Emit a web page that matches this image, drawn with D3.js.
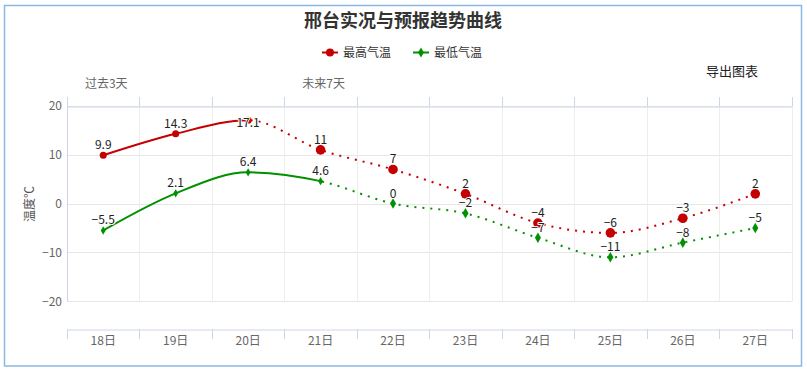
<!DOCTYPE html>
<html><head><meta charset="utf-8">
<script src="https://cdn.jsdelivr.net/npm/d3@7/dist/d3.min.js"></script>
<style>
html,body{margin:0;padding:0;background:#fff;}
svg text{font-family:"Noto Sans CJK SC","Noto Sans",sans-serif;}
</style></head>
<body><svg id="c" width="807" height="369"></svg>
<script>
const categories = ["18日","19日","20日","21日","22日","23日","24日","25日","26日","27日"];
const topLabels = ["过去3天","","","未来7天","","","","","",""];
const maxTemp = [9.9, 14.3, 17.1, 11, 7, 2, -4, -6, -3, 2];
const minTemp = [-5.5, 2.1, 6.4, 4.6, 0, -2, -7, -11, -8, -5];
const maxSolidUntil = 2;   // index where observed (solid) segment ends
const minSolidUntil = 3;
const yTicks = [-20, -10, 0, 10, 20];
const yDomain = [-25.7, 20];

const svg = d3.select("#c");
const L = 67, R = 791.5, T = 106, B = 329, gridBottom = 301;
const red = "#c40000", green = "#009000";
const fmt = v => (v < 0 ? "\u2212" + Math.abs(v) : String(v));

// border
svg.append("rect").attr("x",4.5).attr("y",5.5).attr("width",797).attr("height",360.5)
  .attr("fill","none").attr("stroke","#8ab8e6").attr("stroke-width",1.5);

const x = d3.scaleBand().domain(categories).range([L, R]).padding(0);
const cx = c => x(c) + x.bandwidth()/2;
const y = d3.scaleLinear().domain(yDomain).range([B, T]);

// title
svg.append("text").attr("x",403).attr("y",26.5).attr("text-anchor","middle")
  .attr("font-size",18).attr("font-weight","bold").attr("fill","#333").text("邢台实况与预报趋势曲线");

// legend
const legend = [{name:"最高气温",color:red,sym:d3.symbolCircle,lx:322},{name:"最低气温",color:green,sym:d3.symbolDiamond,lx:413}];
legend.forEach(l=>{
  const g = svg.append("g");
  g.append("line").attr("x1",l.lx).attr("x2",l.lx+16).attr("y1",52.5).attr("y2",52.5).attr("stroke",l.color).attr("stroke-width",2);
  g.append("path").attr("d",d3.symbol(l.sym, l.sym===d3.symbolCircle?50:30)()).attr("transform",`translate(${l.lx+8},52.5)`).attr("fill",l.color);
  g.append("text").attr("x",l.lx+21).attr("y",57).attr("font-size",12).attr("fill","#333").text(l.name);
});

// export text
svg.append("text").attr("x",706).attr("y",75.5).attr("font-size",13).attr("fill","#222").text("导出图表");

// horizontal gridlines
svg.append("g").selectAll("line").data(yTicks).join("line")
  .attr("x1",L).attr("x2",R).attr("y1",d=>Math.round(y(d))+0.5).attr("y2",d=>Math.round(y(d))+0.5)
  .attr("stroke","#e6e6e6");
// vertical gridlines at category boundaries
const bounds = categories.map(c=>x(c)).concat([R]);
svg.append("g").selectAll("line").data(bounds.slice(1)).join("line")
  .attr("x1",d=>Math.round(d)+0.5).attr("x2",d=>Math.round(d)+0.5).attr("y1",T).attr("y2",gridBottom+0.5)
  .attr("stroke","#eeeeee");

// y axis line
svg.append("line").attr("x1",L+0.5).attr("x2",L+0.5).attr("y1",T).attr("y2",gridBottom+0.5).attr("stroke","#ccd6eb");

// top axis
const topAxis = d3.axisTop(x).tickSize(0).tickFormat((d,i)=>topLabels[i]);
const ta = svg.append("g").attr("transform",`translate(0,${T+0.5})`).call(topAxis);
ta.select(".domain").attr("stroke","#ccd6eb");
ta.selectAll("text").attr("font-size",12).attr("fill","#666").attr("dx",3).attr("y",-18.5);
svg.append("g").selectAll("line").data(bounds).join("line")
  .attr("x1",d=>Math.round(d)+0.5).attr("x2",d=>Math.round(d)+0.5).attr("y1",T-9).attr("y2",T+0.5).attr("stroke","#ccd6eb");

// bottom axis
const botAxis = d3.axisBottom(x).tickSize(0);
const ba = svg.append("g").attr("transform",`translate(0,${B+0.5})`).call(botAxis);
ba.select(".domain").attr("stroke","#ccd6eb");
ba.selectAll("text").attr("font-size",12).attr("fill","#666").attr("y",12).attr("dy","0.3em");
svg.append("g").selectAll("line").data(bounds).join("line")
  .attr("x1",d=>Math.round(d)+0.5).attr("x2",d=>Math.round(d)+0.5).attr("y1",B).attr("y2",B+10).attr("stroke","#ccd6eb");

// y labels
const ya = svg.append("g").attr("transform",`translate(${L},0)`)
  .call(d3.axisLeft(y).tickValues(yTicks).tickSize(0).tickPadding(5).tickFormat(fmt));
ya.select(".domain").remove();
ya.selectAll("text").attr("font-size",12).attr("fill","#666");

// y title
svg.append("text").attr("transform","translate(34,204) rotate(-90)").attr("text-anchor","middle")
  .attr("font-size",12).attr("fill","#555").text("温度℃");

// series
const defs = svg.append("defs");
function series(vals, color, splitIdx, sym, rPast, rFut, id){
  const pts = vals.map((v,i)=>[cx(categories[i]), y(v)]);
  const splitX = pts[splitIdx][0];
  defs.append("clipPath").attr("id",id+"a").append("rect").attr("x",0).attr("y",0).attr("width",splitX).attr("height",369);
  defs.append("clipPath").attr("id",id+"b").append("rect").attr("x",splitX).attr("y",0).attr("width",807-splitX).attr("height",369);
  const line = d3.line().curve(d3.curveMonotoneX);
  const d = line(pts);
  svg.append("path").attr("d",d).attr("fill","none").attr("stroke",color).attr("stroke-width",2).attr("clip-path",`url(#${id}a)`);
  svg.append("path").attr("d",d).attr("fill","none").attr("stroke",color).attr("stroke-width",2)
    .attr("stroke-dasharray","2,6").attr("clip-path",`url(#${id}b)`);
  pts.forEach((p,i)=>{
    const r = i < splitIdx ? rPast : (i===splitIdx ? rPast : rFut);
    const size = sym===d3.symbolCircle ? Math.PI*r*r : 2*r*r;
    svg.append("path").attr("d",d3.symbol(sym,size)()).attr("transform",`translate(${p[0]},${p[1]})`).attr("fill",color);
  });
  return pts;
}
const rp = series(maxTemp, red, maxSolidUntil, d3.symbolCircle, 3.5, 4.8, "mx");
const gp = series(minTemp, green, minSolidUntil, d3.symbolDiamond, 3.2, 4, "mn");

function labels(pts, vals){
  svg.append("g").selectAll("text").data(vals).join("text")
    .attr("x",(d,i)=>pts[i][0]).attr("y",(d,i)=>Math.max(pts[i][1]-6, T+21))
    .attr("text-anchor","middle").attr("font-size",12).attr("fill","#222")
    .attr("stroke","#fff").attr("stroke-width",2).attr("paint-order","stroke").attr("stroke-linejoin","round")
    .text(fmt);
}
labels(rp, maxTemp);
labels(gp, minTemp);
</script></body></html>
